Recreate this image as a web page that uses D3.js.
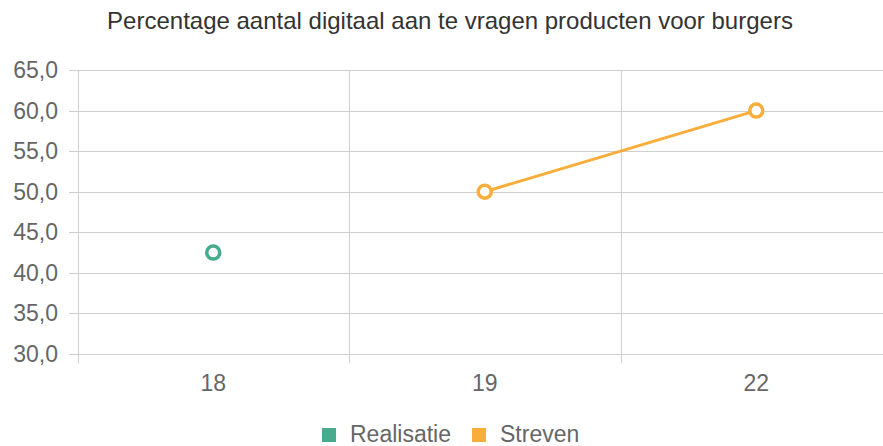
<!DOCTYPE html>
<html>
<head>
<meta charset="utf-8">
<style>
  body { margin: 0; background: #fff; font-family: "Liberation Sans", Arial, sans-serif; }
  .grid line { stroke: #cfcfcf; stroke-width: 1.5px; shape-rendering: crispEdges; }
  .axis text { fill: #666; font-size: 23px; }
</style>
<script src="https://d3js.org/d3.v7.min.js"></script>
</head>
<body>
<script>
  var title = "Percentage aantal digitaal aan te vragen producten voor burgers";
  var categories = ["18", "19", "22"];
  var realisatie = [42.5, null, null];
  var streven = [null, 50, 60];
  var yTicks = [30, 35, 40, 45, 50, 55, 60, 65];
  var seriesNames = ["Realisatie", "Streven"];
  var seriesColors = ["#48ab8d", "#f9ad3a"];

  var width = 883, height = 446;
  var plotLeft = 77.5, plotRight = 892, plotTop = 70, plotBottom = 354;

  var svg = d3.select("body").append("svg")
      .attr("width", width)
      .attr("height", height);

  var x = d3.scaleBand().domain(categories).range([plotLeft, plotRight]);
  var y = d3.scaleLinear().domain([30, 65]).range([plotBottom, plotTop]);

  svg.append("text")
      .attr("x", 450).attr("y", 29)
      .attr("text-anchor", "middle")
      .attr("fill", "#333")
      .style("font-size", "24px")
      .text(title);

  // horizontal grid + y labels
  var gy = svg.append("g").attr("class", "grid");
  gy.selectAll("line").data(yTicks).enter().append("line")
      .attr("x1", 69).attr("x2", width)
      .attr("y1", function(d) { return Math.round(y(d)) + 0.5; })
      .attr("y2", function(d) { return Math.round(y(d)) + 0.5; });

  svg.append("g").attr("class", "axis")
    .selectAll("text").data(yTicks).enter().append("text")
      .attr("x", 58).attr("y", function(d) { return y(d) + 8; })
      .attr("text-anchor", "end")
      .text(function(d) { return d.toFixed(1).replace(".", ","); });

  // vertical band separators
  var bounds = categories.map(function(c) { return x(c); });
  var gx = svg.append("g").attr("class", "grid");
  gx.selectAll("line").data(bounds).enter().append("line")
      .attr("x1", function(d) { return Math.round(d) + 0.5; })
      .attr("x2", function(d) { return Math.round(d) + 0.5; })
      .attr("y1", plotTop).attr("y2", plotBottom + 9);

  svg.append("g").attr("class", "axis")
    .selectAll("text").data(categories).enter().append("text")
      .attr("x", function(d) { return x(d) + x.bandwidth() / 2; })
      .attr("y", 391)
      .attr("text-anchor", "middle")
      .text(function(d) { return d; });

  // series
  var series = [realisatie, streven];
  var line = d3.line()
      .defined(function(d) { return d != null; })
      .x(function(d, i) { return x(categories[i]) + x.bandwidth() / 2; })
      .y(function(d) { return y(d); });

  series.forEach(function(vals, s) {
    svg.append("path")
        .datum(vals)
        .attr("fill", "none")
        .attr("stroke", seriesColors[s])
        .attr("stroke-width", 3)
        .attr("d", line);
    svg.append("g").selectAll("circle")
        .data(vals.map(function(v, i) { return {v: v, c: categories[i]}; })
                  .filter(function(d) { return d.v != null; }))
        .enter().append("circle")
        .attr("cx", function(d) { return x(d.c) + x.bandwidth() / 2; })
        .attr("cy", function(d) { return y(d.v); })
        .attr("r", 6.5)
        .attr("fill", "#fff")
        .attr("stroke", seriesColors[s])
        .attr("stroke-width", 3.5);
  });

  // legend
  var legendX = [322, 472];
  var lg = svg.append("g");
  seriesNames.forEach(function(n, i) {
    lg.append("rect")
        .attr("x", legendX[i]).attr("y", 428)
        .attr("width", 14).attr("height", 14)
        .attr("fill", seriesColors[i]);
    lg.append("text")
        .attr("x", legendX[i] + 28).attr("y", 442)
        .attr("fill", "#666")
        .style("font-size", "23px")
        .text(n);
  });
</script>
</body>
</html>
